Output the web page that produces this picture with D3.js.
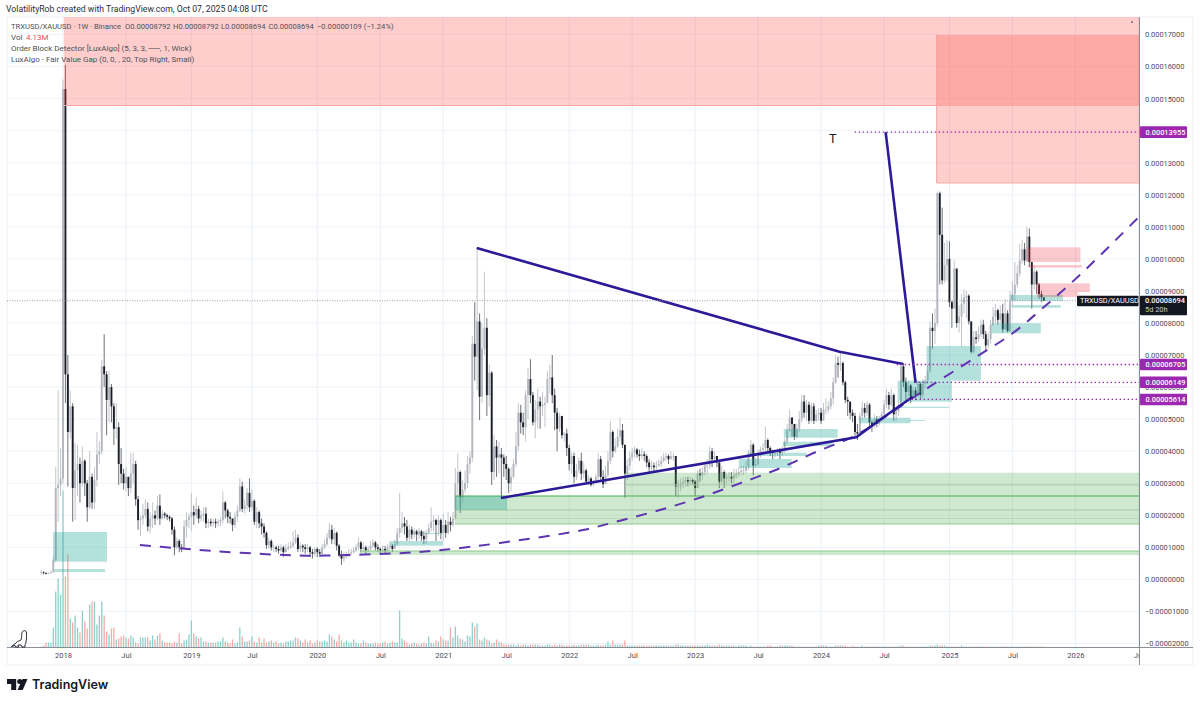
<!DOCTYPE html>
<html>
<head>
<meta charset="utf-8">
<script src="https://cdn.jsdelivr.net/npm/d3@7/dist/d3.min.js"></script>
<style>
  html, body { margin: 0; background: #fff; }
  svg { display: block; }
  text { font-family: Roboto, sans-serif; }
</style>
</head>
<body>
<div id="chart"></div>
<script>
// weekly closes, highs and lows from 2017-10-30, price in units of 0.00001
const closes = [
  .22,.2,.18,.2,.22,.6,2.85,2.95,3.15,15.3,
  6.4,4.6,5.4,2.85,3.4,3.6,3,3.7,3,2.25,
  3.2,2.4,3.1,3.9,4,6.65,6.4,5.6,6,5.4,
  4.7,4.75,3.6,3.3,3,3.2,2.85,3.3,3.6,2.5,
  1.85,1.9,2,2.2,1.65,1.9,2,1.9,2.3,1.9,
  2.05,2,1.95,1.9,1.55,1,1.2,1,.95,1.65,
  1.85,1.95,2.1,2,2.2,1.9,2,2.05,1.75,1.8,
  1.75,1.8,1.75,1.8,1.85,2.4,2.15,1.95,1.9,1.7,
  1.95,2.15,2.9,2.2,2.3,2.7,2.25,2.45,1.8,2.1,
  1.75,1.65,1.45,1.07,1.2,1,1,.95,.9,1,
  .85,.95,1,1.05,1.15,1.3,.95,1.05,1,.95,
  1,.85,.8,.95,.85,.8,1,1.1,1.3,1.55,
  1.25,1.45,1.05,.75,.65,.7,.75,.82,.85,.9,
  1,1.15,.95,1,.9,.95,1.05,1.15,1,.95,
  .9,.95,.9,1,1.05,.95,1.1,1.45,1.6,1.75,
  1.65,1.3,1.55,1.4,1.5,1.4,1.5,1.35,1.25,1.45,
  1.6,1.8,1.85,1.7,1.85,1.45,1.7,1.45,1.8,1.7,
  1.9,3,3.35,2.57,2.8,3,3.6,3.8,7.35,6.95,
  8.05,5.7,7.2,7.85,5.75,6.45,3.35,4.15,3.8,3.9,
  3.8,3.6,3.45,3,3.2,3.6,4.15,5.2,4.9,4.75,
  5.75,6.25,5.75,4.9,5.3,5.55,5.4,5.45,5.5,6.25,
  6.3,5.75,5.2,4.7,5.1,4.5,4.55,4.1,3.6,3.85,
  3.2,3.4,3.7,3.3,3.4,3.05,3.15,2.95,3,3.2,
  3.75,3.2,2.97,3.25,3.7,4.6,4,4.15,4.45,4.65,
  4.2,3.3,3.55,3.8,3.95,4.05,3.9,3.85,3.9,3.85,
  3.65,3.5,3.55,3.5,3.55,3.6,3.7,3.8,3.85,3.75,
  3.85,3.85,2.9,2.9,3,3.05,3.1,3.05,3.1,3.05,
  2.85,3.3,3.25,3.35,3.55,3.55,4,3.75,3.85,3.65,
  3.05,3.35,3.15,3.2,3.2,3.15,3.25,3.3,3.35,3.4,
  3.4,3.5,3.9,4.2,3.55,3.6,3.95,4.05,4.1,4.35,
  4.1,4,3.95,3.95,4,3.95,4.05,4.3,4.65,5.05,
  4.85,4.45,4.7,5,5.55,5.2,5.45,4.95,5.4,4.95,
  5.15,5.2,4.95,5.3,5.3,5.4,5.65,6.15,6.75,6.7,
  6.75,6.15,5.6,5.55,5.2,5.1,4.6,4.55,5.1,5.35,
  5.2,5.45,4.9,4.8,5,4.85,5,5.15,5.45,5.75,
  5.45,5.75,5.15,5.25,5.45,6.65,6.15,5.85,6.05,5.7,
  5.9,5.75,6.1,5.75,6.1,6.2,6.5,7.85,7.75,8,
  12.05,10.75,9.33,9.8,10,8.65,8.45,9.7,8,8.2,
  8.6,8.8,8.85,8.05,7.1,7.55,7.5,7.65,7.95,7.65,
  7.3,7.5,7.95,8.2,8.4,8.1,8.3,7.8,8.3,7.75,
  8.7,8.9,9.2,9.55,9.95,10.3,9.95,10.7,9.9,9.2,
  9.6,9.2,8.9,8.8,8.694
];
const highs = [
  .3,.25,.22,.22,.28,.75,3.5,5.9,4.1,15.6,
  16.05,7,5.9,5.5,4.25,4.2,3.8,4.15,3.75,3.1,
  4,3.3,3.5,4.6,4.3,6.85,7.65,6.5,6.5,6.1,
  5.5,5.5,4.9,4.1,3.45,3.5,3.2,3.95,3.95,3.7,
  2.6,2,2.35,2.5,2.4,2.1,2.4,2.15,2.6,2.65,
  2.15,2.1,2.05,2,1.95,1.65,1.3,1.25,1.1,1.85,
  2.1,2.05,2.7,2.3,2.55,2.3,2.15,2.25,2.25,1.9,
  1.9,1.9,1.9,1.88,1.95,2.75,2.45,2.2,2.1,1.9,
  2.1,2.3,3.15,3.05,2.5,2.85,3.15,2.8,2.5,2.25,
  2.15,1.9,1.75,1.5,1.3,1.25,1.1,1.05,1.05,1.1,
  1.05,1.1,1.15,1.2,1.5,1.55,1.4,1.15,1.1,1.1,
  1.1,1.05,.95,1,1,.95,1.1,1.25,1.45,1.75,
  1.7,1.6,1.5,1.1,.9,.85,.88,.95,.95,1,
  1.1,1.3,1.2,1.15,1.05,1.05,1.2,1.25,1.2,1.1,
  1,1.05,1.05,1.1,1.15,1.1,1.25,1.6,2.7,2.1,
  1.95,1.85,1.7,1.65,1.6,1.55,1.6,1.55,1.5,1.55,
  1.75,2.25,2,1.9,2,1.9,2.05,1.85,2.1,1.95,
  2.1,3.47,3.93,3.4,3.1,3.4,3.85,4,7.6,8.65,
  10.3,8.3,8,9.6,8.15,6.7,6.5,4.5,4.35,4.3,
  4.1,3.9,3.85,3.5,3.5,3.75,4.6,5.5,5.45,5.2,
  5.9,6.6,6.87,5.85,5.6,5.95,5.7,5.85,5.7,6.5,
  6.7,7,5.95,5.35,5.2,5.1,4.6,4.7,4.2,3.95,
  3.95,3.6,3.8,3.95,3.65,3.45,3.25,3.2,3.1,3.3,
  3.95,3.85,3.4,3.55,4,4.95,4.65,4.4,4.7,5.05,
  4.85,4.2,3.75,4,4.1,4.15,4.1,4.05,4.1,4,
  3.9,3.75,3.7,3.65,3.7,3.75,3.85,3.95,3.95,3.9,
  4,3.95,3.85,3.1,3.15,3.2,3.2,3.2,3.2,3.15,
  3.1,3.4,3.45,3.5,3.65,3.75,4.15,4.1,4,3.85,
  3.65,3.55,3.4,3.3,3.35,3.35,3.45,3.45,3.5,3.55,
  3.55,3.7,4.05,4.35,4.25,3.8,4.05,4.15,4.25,4.76,
  4.4,4.15,4.05,4.05,4.1,4.1,4.15,4.4,4.85,5.3,
  5.05,4.85,4.85,5.25,5.75,5.75,5.6,5.55,5.5,5.5,
  5.3,5.35,5.35,5.5,5.65,5.55,5.85,6.3,7,6.95,
  7.1,6.8,6.2,5.7,5.5,5.3,5.2,4.85,5.2,5.55,
  5.5,5.55,5.5,4.95,5.15,5.1,5.1,5.25,5.6,5.95,
  5.85,5.95,5.8,5.35,5.55,6.8,6.75,6.3,6.2,6.1,
  6,6,6.2,6.15,6.25,6.35,6.7,8.05,8.3,8.45,
  12.1,12.1,11.6,10.5,10.6,10.55,8.7,9.95,9.2,8.55,
  8.9,9.05,9,8.9,8.05,7.75,7.75,7.9,8.1,8.1,
  7.75,7.7,8.1,8.5,8.6,8.45,8.55,8.6,8.75,8.4,
  9,9.3,9.9,9.8,10.45,10.6,10.5,11,10.95,9.9,
  9.8,9.65,9.25,9,8.792
];
const lows = [
  .15,.15,.15,.17,.18,.22,.55,1.8,2.6,3,
  5.5,2.9,4.4,1.8,1.85,2.6,2.4,2.9,2.6,1.8,
  2.2,2.2,2.2,2.9,3.6,3.9,6,4.5,4.9,4.9,
  4.2,4.4,2.95,3,2.8,2.75,2.6,2.7,3,2.3,
  1.55,1.35,1.7,1.9,1.5,1.44,1.6,1.7,1.85,1.7,
  1.85,1.9,1.85,1.8,1.4,.75,.95,.85,.85,.95,
  1.3,1.6,1.5,1.7,1.9,1.75,1.8,1.8,1.6,1.6,
  1.65,1.65,1.6,1.65,1.65,1.75,1.9,1.75,1.75,1.5,
  1.6,1.8,2.1,2.1,2.05,2.15,2.1,2.15,1.7,1.6,
  1.6,1.4,1.3,.95,.95,.9,.85,.85,.8,.85,
  .7,.85,.9,.95,1,1.1,.85,.85,.85,.8,
  .85,.7,.65,.7,.7,.7,.75,.95,1.05,1.25,
  1.1,1.1,.9,.7,.45,.55,.65,.7,.75,.8,
  .85,.9,.85,.85,.8,.85,.9,1,.9,.85,
  .8,.85,.8,.85,.9,.85,1,1.05,1.3,1.45,
  1.4,1.2,1.2,1.25,1.3,1.2,1.25,1.2,1.1,1.1,
  1.4,1.5,1.5,1.2,1.35,1.25,1.2,1.3,1.4,1.5,
  1.65,1.85,2.6,2.07,2.4,2.7,2.85,3.3,3.65,6.2,
  5.9,4.97,5.5,7,5.1,5.4,2.95,3.1,3.2,3.3,
  2.55,3.2,3.1,2.7,2.75,3.15,3.5,4,4.55,4.5,
  4.3,5,5.5,4.8,4.4,4.7,4.7,5.1,4.75,5.5,
  5.8,5.5,4.65,4,4.6,4.4,4.3,3.85,3.4,3.3,
  3,3.1,3.3,3.1,3.15,2.95,2.95,2.9,2.9,3,
  3.1,3.05,2.85,3,3.2,3.6,3.8,3.95,4.1,4.3,
  4.1,2.55,3.1,3.4,3.7,3.8,3.8,3.7,3.75,3.7,
  3.5,3.35,3.4,3.35,3.4,3.5,3.5,3.65,3.7,3.6,
  3.75,3.7,2.6,2.55,2.75,2.85,2.9,2.9,2.95,2.95,
  2.6,2.85,3.05,3.1,3.25,3.3,3.45,3.5,3.65,3.5,
  2.85,2.95,2.85,3,3.05,3,3,3.15,3.2,3.25,
  3.25,3.3,3.4,3.85,3.25,3.5,3.55,3.8,3.9,3.95,
  3.95,3.85,3.75,3.8,3.85,3.75,3.85,3.95,4.25,4.6,
  4.45,4.35,4.4,4.6,4.9,5.05,4.95,4.85,4.9,4.85,
  4.9,4.95,4.85,4.95,5.15,5.2,5.3,5.45,6.1,6.3,
  6.5,6.05,5.5,5.1,5,4.9,4.45,4.35,4.5,5,
  5.05,5.1,4.75,4.6,4.7,4.75,4.8,4.95,5.1,5.35,
  5.3,5.4,4.95,4.95,5.1,5.35,6,5.6,5.7,5.5,
  5.65,5.6,5.7,5.6,5.65,5.95,6.1,6.45,7.2,7.35,
  7.9,9.2,9.2,9.25,9.3,8.5,7.85,8.45,7.85,7.7,
  7.27,8.3,8.15,7.95,7.05,7.05,7.35,7.4,7.55,7.5,
  7.15,7.2,7.35,7.9,8,7.95,8,7.7,7.8,7.7,
  7.7,8.55,8.7,9.1,9.45,9.85,9.8,9.9,9.75,8.45,
  9.05,8.9,8.75,8.65,8.694
];
// volume per week, one unit is about 4M
const volumes = [
  1,2,5,5,5,20,56,69,53,157,
  71,93,29,25,32,20,15,37,26,19,
  43,46,46,23,32,46,32,16,13,19,
  20,8,9,11,12,10,9,12,10,5,
  4,10,10,10,10,7,12,8,12,14,
  7,5,5,5,4,6,5,14,4,7,
  8,13,27,14,11,9,10,6,6,5,
  5,5,5,6,6,10,6,5,4,8,
  4,5,20,11,6,6,7,11,6,5,
  10,5,9,5,6,7,5,6,4,5,
  4,6,6,7,7,10,9,7,5,8,
  5,7,4,5,7,6,6,7,6,13,
  11,8,6,13,7,5,7,5,5,8,
  5,4,4,7,5,4,4,4,5,4,
  4,5,6,4,5,6,5,5,37,9,
  7,5,3,4,5,4,3,4,5,4,
  11,5,4,7,6,11,8,7,7,20,
  10,21,12,9,8,6,12,11,25,21,
  24,8,7,10,8,7,4,5,8,6,
  5,3,3,3,3,3,2,3,2,3,
  3,2,3,3,3,3,2,2,2,3,
  3,2,3,2,3,3,2,2,2,2,
  3,2,2,3,3,3,3,2,2,2,
  3,2,2,3,6,3,7,3,3,3,
  3,7,2,2,2,2,2,2,2,2,
  2,2,2,2,2,2,2,2,2,2,
  2,2,3,3,2,2,2,2,2,2,
  2,2,2,2,2,3,2,2,2,2,
  3,2,2,2,2,2,2,1,2,2,
  2,2,1,2,1,1,1,1,1,1,
  2,2,1,1,1,2,2,2,2,2,
  2,1,1,1,1,1,1,1,1,1,
  1,2,2,2,2,1,1,1,2,2,
  2,2,2,1,1,2,1,1,1,2,
  1,1,1,1,1,1,1,1,1,1,
  1,1,1,1,1,2,2,1,1,1,
  1,1,1,1,1,1,1,2,2,2,
  3,2,2,2,1,1,1,1,1,1,
  2,1,1,1,1,1,1,1,1,1,
  1,1,1,1,1,1,1,1,1,1,
  1,1,1,1,1,1,1,1,1,1,
  1,1,1,1,1
];

const priceTicks = d3.range(-2, 18);
const timeTicks = ['2018-01-01','2018-07-02','2019-01-07','2019-07-01','2020-01-06','2020-07-06','2021-01-04','2021-07-05',
  '2022-01-03','2022-07-04','2023-01-02','2023-07-03','2024-01-01','2024-07-01','2025-01-06','2025-07-07','2026-01-05','2026-07-06'];
const timeLabels = ['2018','Jul','2019','Jul','2020','Jul','2021','Jul','2022','Jul','2023','Jul','2024','Jul','2025','Jul','2026','Jul'];

// zones: [start year, end year, top price, bottom price]
const bigRedZones = [
  [2018.008, 2026.6, 19.5, 14.786],
  [2024.915, 2026.6, 16.986, 12.368]
];
const redZones = [
  [2025.624, 2026.051, 10.362, 9.903],
  [2025.635, 2026.062, 9.81, 9.725],
  [2025.698, 2026.125, 9.239, 8.967],
  [2025.706, 2026.03, 8.967, 8.811]
];
const tealZones = [
  [2017.921, 2018.348, 1.479, .552],
  [2017.929, 2018.332, .324, .231],
  [2020.587, 2021.006, 1.198, 1.051],
  [2020.864, 2021.006, 1.448, 1.417],
  [2021.101, 2021.513, 2.602, 2.165],
  [2023.348, 2023.767, 3.757, 3.476],
  [2023.419, 2023.886, 3.953, 3.85],
  [2023.704, 2024.131, 4.693, 4.421],
  [2023.696, 2024.092, 4.296, 4.162],
  [2024.305, 2024.707, 5.045, 4.871],
  [2024.7, 2024.82, 4.973, 4.942],
  [2024.606, 2025.033, 6.2, 5.544],
  [2024.622, 2025.01, 5.389, 5.348],
  [2024.835, 2025.263, 7.282, 6.2],
  [2025.347, 2025.737, 7.991, 7.679],
  [2025.492, 2025.911, 8.874, 8.687],
  [2025.506, 2025.895, 8.561, 8.477]
];
const greenZones = [
  [2022.446, 2026.6, 3.329, 2.602],
  [2021.101, 2026.6, 2.602, 1.729],
  [2020.35, 2026.6, .886, .761]
];
// thin lines across the order blocks: [start year, price, colour]
const blockLines = [
  [2022.446, 2.95, '#a9c6a3'],
  [2021.101, 2.602, '#4caf50'],
  [2021.101, 2.165, '#a9c6a3'],
  [2021.101, 1.9, '#bcd9b6'],
  [2021.101, 1.729, '#8fca8b'],
  [2020.35, .886, '#8fca8b']
];

const dashYears = [2018.609,2018.886,2019.187,2019.582,2019.93,2020.247,2020.642,2020.996,2021.457,2022.114,2022.407,2022.723,
  2023.04,2023.356,2023.672,2023.963,2024.279,2024.701,2024.859,2025.229,2025.516,2025.753,2026.046,2026.505];
const dashPrices = [1.073,.98,.886,.793,.739,.761,.814,.917,1.136,1.541,1.832,2.165,
  2.549,2.998,3.466,3.984,4.506,5.598,6.013,6.949,7.688,8.468,9.498,11.276];

// hand drawn trend lines, each a list of [year, price]
const trendLines = [
  [[2021.273, 10.34], [2024.146, 7.104], [2024.65, 6.72]],
  [[2021.465, 2.54], [2024.279, 4.434], [2024.464, 4.973], [2024.725, 5.7]],
  [[2024.511, 13.955], [2024.748, 6.128]]
];
const levelPrices = [13.955, 6.705, 6.149, 5.614];
const levelStarts = [2024.266, 2024.598, 2024.74, 2024.685];
const lastPrice = 8.694;

const chartWidth = 1200, chartHeight = 703;
const plotLeft = 7, plotRight = 1139.5, plotTop = 17, plotBottom = 647.5, frameRight = 1193, frameBottom = 665;

const yearDate = v => {
  const yr = Math.floor(v);
  return new Date(Date.UTC(yr, 0, 1) + (v - yr) * 365.25 * 864e5);
};
const utc = d3.utcParse('%Y-%m-%d');
const firstWeek = utc('2017-10-30');
const priceText = p => (p * 1e-5).toFixed(8).replace('-', '\u2212');

const x = d3.scaleUtc().domain([utc('2018-01-01'), utc('2026-01-01')]).range([63, 1074]);
const y = d3.scaleLinear().domain([0, 17]).range([579.4, 34.55]);
const yVol = d3.scaleLinear().domain([0, 160]).range([plotBottom, plotBottom - 160]);

const weekBars = closes.map((c, i) => ({
  date: d3.utcMonday.offset(firstWeek, i),
  open: i ? closes[i - 1] : .2,
  close: c,
  high: highs[i],
  low: lows[i],
  volume: volumes[i]
}));

const svg = d3.select('#chart').append('svg').attr('width', chartWidth).attr('height', chartHeight);

svg.append('clipPath').attr('id', 'plot').append('rect')
  .attr('x', plotLeft).attr('y', plotTop).attr('width', plotRight - plotLeft).attr('height', plotBottom - plotTop);
svg.append('clipPath').attr('id', 'timeClip').append('rect')
  .attr('x', plotLeft).attr('y', 0).attr('width', plotRight - plotLeft).attr('height', 20);

// frame
svg.append('rect').attr('x', plotLeft).attr('y', plotTop).attr('width', frameRight - plotLeft).attr('height', frameBottom - plotTop)
  .attr('fill', 'none').attr('stroke', '#f0f3f8').attr('stroke-width', 1.2);

const plot = svg.append('g').attr('clip-path', 'url(#plot)');

// grid
plot.selectAll('.hgrid').data(priceTicks).enter().append('line')
  .attr('x1', plotLeft).attr('x2', plotRight).attr('y1', d => y(d)).attr('y2', d => y(d))
  .attr('stroke', '#eff3f8').attr('stroke-width', 1);
plot.selectAll('.vgrid').data(timeTicks).enter().append('line')
  .attr('x1', d => x(utc(d))).attr('x2', d => x(utc(d))).attr('y1', plotTop).attr('y2', plotBottom)
  .attr('stroke', '#eaf0f6').attr('stroke-width', 1);

// volume
plot.selectAll('.vol').data(weekBars).enter().append('rect')
  .attr('x', d => x(d.date) - .65).attr('width', 1.3)
  .attr('y', d => yVol(d.volume)).attr('height', d => plotBottom - yVol(d.volume))
  .attr('fill', d => d.close < d.open ? '#f7a9a7' : '#8fd0ca');

// candles
const upColor = '#b4b6be', downColor = '#1a1d28';
plot.selectAll('.wick').data(weekBars).enter().append('line')
  .attr('x1', d => x(d.date)).attr('x2', d => x(d.date))
  .attr('y1', d => y(d.high)).attr('y2', d => y(d.low))
  .attr('stroke', d => d.close < d.open ? '#4a4c55' : upColor).attr('stroke-width', .8);
plot.selectAll('.body').data(weekBars).enter().append('rect')
  .attr('x', d => x(d.date) - .95).attr('width', 1.9)
  .attr('y', d => y(Math.max(d.open, d.close)))
  .attr('height', d => Math.max(.7, Math.abs(y(d.open) - y(d.close))))
  .attr('fill', d => d.close < d.open ? downColor : upColor);

// zones
const zone = (rows, fill, opacity) => plot.append('g').selectAll('rect').data(rows).enter().append('rect')
  .attr('x', d => x(yearDate(d[0]))).attr('width', d => x(yearDate(d[1])) - x(yearDate(d[0])))
  .attr('y', d => y(d[2])).attr('height', d => y(d[3]) - y(d[2]))
  .attr('fill', fill).attr('fill-opacity', opacity);

zone(greenZones, '#4caf50', .27);
plot.selectAll('.blockline').data(blockLines).enter().append('line')
  .attr('x1', d => x(yearDate(d[0]))).attr('x2', plotRight).attr('y1', d => y(d[1])).attr('y2', d => y(d[1]))
  .attr('stroke', d => d[2]).attr('stroke-width', 1);
zone(tealZones, '#26a69a', .34);
zone(bigRedZones, '#ff3d33', .25);
zone(redZones, '#f23645', .27);

// lower edges of the two big red zones
plot.selectAll('.rededge').data(bigRedZones).enter().append('line')
  .attr('x1', d => x(yearDate(d[0]))).attr('x2', plotRight).attr('y1', d => y(d[3])).attr('y2', d => y(d[3]))
  .attr('stroke', '#fda9a3').attr('stroke-width', 1);
plot.append('line').attr('x1', x(yearDate(2024.915))).attr('x2', x(yearDate(2024.915)))
  .attr('y1', y(16.986)).attr('y2', y(12.368)).attr('stroke', '#f4a09d').attr('stroke-width', 1);

// dashed curve
const line = d3.line().x(d => x(yearDate(d[0]))).y(d => y(d[1]));
plot.append('path')
  .attr('d', line.curve(d3.curveCatmullRom)(dashYears.map((d, i) => [d, dashPrices[i]])))
  .attr('fill', 'none').attr('stroke', '#5e35b1').attr('stroke-width', 2).attr('stroke-dasharray', '11,9');

// trend lines
line.curve(d3.curveLinear);
plot.selectAll('.trend').data(trendLines).enter().append('path')
  .attr('d', d => line(d)).attr('fill', 'none')
  .attr('stroke', '#2b1a98').attr('stroke-width', 2.6).attr('stroke-linejoin', 'round');

// dotted levels
plot.selectAll('.level').data(levelPrices).enter().append('line')
  .attr('x1', (d, i) => x(yearDate(levelStarts[i]))).attr('x2', plotRight)
  .attr('y1', d => y(d)).attr('y2', d => y(d))
  .attr('stroke', '#9c27b0').attr('stroke-width', 1.3).attr('stroke-dasharray', '1.4,2.6');
plot.append('line').attr('x1', plotLeft).attr('x2', plotRight).attr('y1', y(lastPrice)).attr('y2', y(lastPrice))
  .attr('stroke', '#9a9ca5').attr('stroke-width', 1).attr('stroke-dasharray', '1,1.5');

// axes
const yAxis = svg.append('g').attr('transform', `translate(${plotRight},0)`)
  .call(d3.axisRight(y).tickValues(priceTicks).tickSize(0).tickPadding(5.5).tickFormat(priceText));
yAxis.select('.domain').remove();
yAxis.selectAll('text').attr('font-size', 7.4).attr('fill', '#4a4d56').style('font-family', 'Roboto, sans-serif');

const xAxis = svg.append('g').attr('clip-path', 'url(#timeClip)').attr('transform', `translate(0,${plotBottom})`);
xAxis.call(d3.axisBottom(x).tickValues(timeTicks.map(utc)).tickSize(0).tickPadding(5.5).tickFormat((d, i) => timeLabels[i]));
xAxis.select('.domain').remove();
xAxis.selectAll('text').attr('font-size', 7.6).attr('fill', '#4a4d56').style('font-family', 'Roboto, sans-serif');

svg.append('line').attr('x1', plotLeft).attr('x2', frameRight).attr('y1', plotBottom).attr('y2', plotBottom)
  .attr('stroke', '#8a8d96').attr('stroke-width', 1);
svg.append('line').attr('x1', plotRight).attr('x2', plotRight).attr('y1', plotTop).attr('y2', frameBottom)
  .attr('stroke', '#8a8d96').attr('stroke-width', 1);

// level tags
const tagText = ['0.00013955', '0.00006705', '0.00006149', '0.00005614'];
const tags = svg.selectAll('.tag').data(levelPrices).enter().append('g')
  .attr('transform', d => `translate(${plotRight + .5},${y(d)})`);
tags.append('rect').attr('x', 0).attr('y', -5.8).attr('width', 47).attr('height', 11.6).attr('rx', 1).attr('fill', '#9c27b0');
tags.append('text').attr('x', 5.5).attr('y', 2.7).attr('font-size', 7.4).attr('font-weight', 500).attr('fill', '#fff')
  .text((d, i) => tagText[i]);

// last price tags
const yLast = y(lastPrice);
svg.append('rect').attr('x', 1077).attr('y', yLast - 5).attr('width', 61.5).attr('height', 10.5).attr('rx', 1).attr('fill', '#131722');
svg.append('text').attr('x', 1080).attr('y', yLast + 2.7).attr('font-size', 7.4).attr('fill', '#fff').text('TRXUSD/XAUUSD');
svg.append('rect').attr('x', plotRight + .5).attr('y', yLast - 5).attr('width', 47).attr('height', 19.5).attr('rx', 1).attr('fill', '#131722');
svg.append('text').attr('x', plotRight + 5.5).attr('y', yLast + 2.7).attr('font-size', 7.4).attr('font-weight', 500).attr('fill', '#fff').text('0.00008694');
svg.append('text').attr('x', plotRight + 5.5).attr('y', yLast + 11.5).attr('font-size', 7.4).attr('fill', '#c9cbd2').text('5d 20h');

// T mark and the dot near the top right
svg.append('text').attr('x', 829).attr('y', 143).attr('font-size', 12.5).attr('fill', '#131722').text('T');
svg.append('circle').attr('cx', 1132).attr('cy', 22).attr('r', .8).attr('fill', '#131722');

// header and legend
const legendColor = '#4e5058';
svg.append('text').attr('x', 6).attr('y', 12).attr('font-size', 8.7).attr('fill', '#2a2e39')
  .text('VolatilityRob created with TradingView.com, Oct 07, 2025 04:08 UTC');
const legendX = [11, 125, 173, 221, 268.5, 317];
const legendBits = ['TRXUSD/XAUUSD \u00b7 1W \u00b7 Binance', 'O0.00008792', 'H0.00008792', 'L0.00008694', 'C0.00008694', '\u22120.00000109 (\u22121.24%)'];
svg.selectAll('.legend').data(legendBits).enter().append('text')
  .attr('x', (d, i) => legendX[i]).attr('y', 29).attr('font-size', 7.6).attr('fill', legendColor).text(d => d);
svg.append('text').attr('x', 11).attr('y', 40).attr('font-size', 8).attr('fill', legendColor).text('Vol');
svg.append('text').attr('x', 26).attr('y', 40).attr('font-size', 8).attr('fill', '#ef5350').text('4.13M');
svg.append('text').attr('x', 11).attr('y', 51).attr('font-size', 8).attr('fill', legendColor)
  .text('Order Block Detector [LuxAlgo] (5, 3, 3, \u2500\u2500, 1, Wick)');
svg.append('text').attr('x', 11).attr('y', 62).attr('font-size', 8).attr('fill', legendColor)
  .text('LuxAlgo - Fair Value Gap (0, 0, , 20, Top Right, Small)');

// little dino in the corner
svg.append('path')
  .attr('d', 'M11.5 646.5 L16 643 C18 640.5 20 641 21 640 C22 637 21.5 634 22 632.5 C23 630 26.5 630 26.5 633 C26.5 636 26.5 640 26 642 C25.5 644 24.5 645 25 647 L22 647 L21 645 L18 645 L18.5 647 L15.5 647 L15 645.5 Z')
  .attr('fill', '#fff').attr('stroke', '#131722').attr('stroke-width', .9);

// TradingView logo
svg.append('path').attr('d', 'M7 679 H16.2 V690 H11.2 V684 H7 Z').attr('fill', '#131722');
svg.append('circle').attr('cx', 19.7).attr('cy', 681.6).attr('r', 2.5).attr('fill', '#131722');
svg.append('path').attr('d', 'M22.5 679 H27.5 L22.7 690 H17.5 Z').attr('fill', '#131722');
svg.append('text').attr('x', 32).attr('y', 689).attr('font-size', 12.5).attr('font-weight', 600)
  .style('font-family', 'Inter, sans-serif').attr('fill', '#131722').text('TradingView');
</script>
</body>
</html>
